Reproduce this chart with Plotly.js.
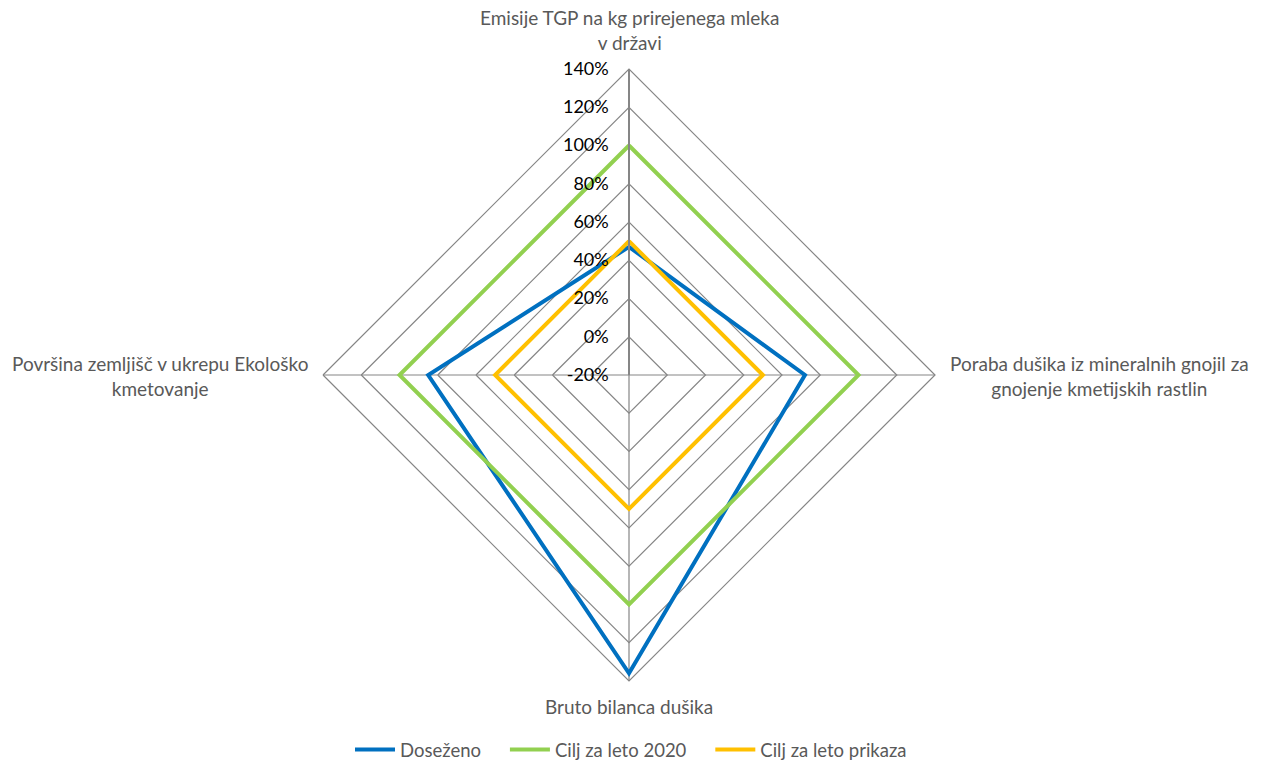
<!DOCTYPE html>
<html>
<head>
<meta charset="utf-8">
<script src="https://cdn.plot.ly/plotly-3.0.1.min.js"></script>
<style>
  html, body { margin: 0; padding: 0; background: #ffffff; }
  #chart { width: 1262px; height: 761px; }
</style>
</head>
<body>
<div id="chart"></div>
<script>
// Indicator categories (clockwise from the top)
const categories = [
  'Emisije TGP na kg prirejenega mleka<br>v državi',
  'Poraba dušika iz mineralnih gnojil za<br>gnojenje kmetijskih rastlin',
  'Bruto bilanca dušika',
  'Površina zemljišč v ukrepu Ekološko<br>kmetovanje'
];

// Series values, in percent
const achieved = [47, 72, 136, 85];
const target2020 = [100, 100, 100, 100];
const targetYear = [50, 50, 50, 50];

const seriesNames = ['Doseženo', 'Cilj za leto 2020', 'Cilj za leto prikaza'];
const seriesColors = ['#0070C0', '#92D050', '#FFC000'];

// Radial tick values
const tickValues = [-20, 0, 20, 40, 60, 80, 100, 120, 140];
const tickLabels = tickValues.map(v => v + '%');

const FONT = 'Lato, "Open Sans", sans-serif';
const keys = categories.map((c, i) => 'k' + i);
const GAP = '\u00a0\u00a0\u00a0\u00a0'; // extra room between legend entries

function closed(arr) { return arr.concat([arr[0]]); }

const traces = [achieved, target2020, targetYear].map((vals, i) => ({
  type: 'scatterpolar',
  mode: 'lines',
  r: closed(vals),
  theta: closed(keys),
  name: seriesNames[i] + (i < seriesNames.length - 1 ? GAP : ''),
  line: { color: seriesColors[i], width: 4, shape: 'linear' },
  hoverinfo: 'skip',
  cliponaxis: false
}));

// Category labels placed around the diamond
const labelPos = [
  { x: 629 / 1262, y: 1 - 56 / 761, xanchor: 'center', yanchor: 'bottom' },
  { x: 948 / 1262, y: 1 - 376 / 761, xanchor: 'left', yanchor: 'middle' },
  { x: 629 / 1262, y: 1 - 693 / 761, xanchor: 'center', yanchor: 'top' },
  { x: 310 / 1262, y: 1 - 376 / 761, xanchor: 'right', yanchor: 'middle' }
];
const annotations = categories.map((c, i) => Object.assign({
  xref: 'paper', yref: 'paper',
  text: c, showarrow: false, align: 'center',
  font: { family: FONT, size: 19, color: '#595959' }
}, labelPos[i]));

const layout = {
  width: 1262, height: 761,
  margin: { l: 0, r: 0, t: 0, b: 0, autoexpand: false },
  paper_bgcolor: '#ffffff',
  font: { family: FONT, color: '#595959' },
  showlegend: true,
  legend: {
    orientation: 'h', x: 0.5, xanchor: 'center', y: 1 - 750 / 761, yanchor: 'middle',
    font: { family: FONT, size: 18.5, color: '#595959' },
    itemwidth: 40
  },
  annotations: annotations,
  polar: {
    domain: { x: [323 / 1262, 935 / 1262], y: [1 - 681 / 761, 1 - 69 / 761] },
    bgcolor: '#ffffff',
    gridshape: 'linear',
    radialaxis: {
      range: [-20, 140],
      tickvals: tickValues,
      ticktext: tickLabels,
      angle: 90,
      tickangle: 90,
      side: 'counterclockwise',
      ticks: 'outside',
      ticklen: 13,
      tickcolor: 'rgba(0,0,0,0)',
      showline: true,
      linecolor: '#868686',
      linewidth: 2,
      gridcolor: '#858585',
      gridwidth: 1.2,
      tickfont: { family: FONT, size: 18, color: '#000000' }
    },
    angularaxis: {
      type: 'category',
      categoryarray: keys,
      rotation: 90,
      direction: 'clockwise',
      showticklabels: false,
      ticks: '',
      showline: true,
      linecolor: '#858585',
      linewidth: 1.2,
      gridcolor: '#858585',
      gridwidth: 1.2
    }
  }
};

Plotly.newPlot('chart', traces, layout, { displayModeBar: false, staticPlot: true });
</script>
</body>
</html>
